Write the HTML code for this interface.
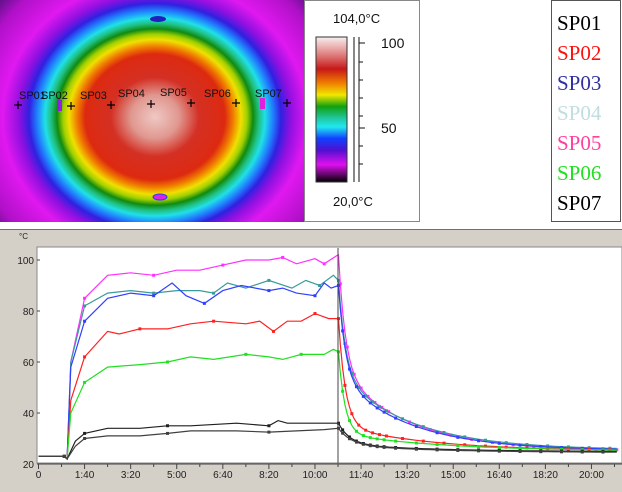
<!DOCTYPE html>
<html><head><meta charset="utf-8">
<style>
html,body{margin:0;padding:0;background:#fff;width:622px;height:492px;overflow:hidden}
svg{display:block;font-family:"Liberation Sans",Arial,sans-serif}
</style></head><body>
<svg id="s" width="622" height="492" viewBox="0 0 622 492" xmlns="http://www.w3.org/2000/svg">
<defs>
<radialGradient id="th" gradientUnits="userSpaceOnUse" cx="155" cy="117" r="200" gradientTransform="translate(155 117) scale(1 0.9) translate(-155 -117)">
<stop offset="0" stop-color="#f0c8c4"/>
<stop offset="0.12" stop-color="#e09890"/>
<stop offset="0.22" stop-color="#d43024"/>
<stop offset="0.35" stop-color="#dd2a10"/>
<stop offset="0.39" stop-color="#f07a00"/>
<stop offset="0.43" stop-color="#f0e000"/>
<stop offset="0.46" stop-color="#a0d000"/>
<stop offset="0.49" stop-color="#108a10"/>
<stop offset="0.52" stop-color="#20c080"/>
<stop offset="0.55" stop-color="#20e0e8"/>
<stop offset="0.59" stop-color="#2080ff"/>
<stop offset="0.63" stop-color="#3020e0"/>
<stop offset="0.68" stop-color="#9010e0"/>
<stop offset="0.76" stop-color="#e018f0"/>
<stop offset="0.92" stop-color="#b010c8"/>
<stop offset="1" stop-color="#6a1090"/>
</radialGradient>
<linearGradient id="cb" x1="0" y1="0" x2="0" y2="1">
<stop offset="0" stop-color="#f8f0f0"/>
<stop offset="0.12" stop-color="#e08080"/>
<stop offset="0.22" stop-color="#c81818"/>
<stop offset="0.32" stop-color="#f08000"/>
<stop offset="0.40" stop-color="#f0e800"/>
<stop offset="0.48" stop-color="#10a010"/>
<stop offset="0.56" stop-color="#20c8a0"/>
<stop offset="0.62" stop-color="#20e8f0"/>
<stop offset="0.70" stop-color="#1040ff"/>
<stop offset="0.78" stop-color="#5010d0"/>
<stop offset="0.88" stop-color="#e010f0"/>
<stop offset="1" stop-color="#000"/>
</linearGradient>
</defs>
<rect x="0" y="0" width="304" height="222" fill="url(#th)"/>
<ellipse cx="158" cy="19" rx="8" ry="3" fill="#2020c0"/>
<ellipse cx="160" cy="197" rx="7" ry="3" fill="#e020e0" stroke="#2040ff"/>
<rect x="57" y="100" width="5" height="11" fill="#9020e0"/>
<rect x="260" y="98" width="5" height="11" fill="#e020e0"/>
<g font-size="11" fill="#111">
<text x="19" y="99">SP01</text><text x="41" y="99">SP02</text><text x="80" y="99">SP03</text><text x="118" y="97">SP04</text><text x="160" y="96">SP05</text><text x="204" y="97">SP06</text><text x="255" y="97">SP07</text>
</g>
<g stroke="#000" stroke-width="1.2">
<path d="M14 105h8M18 101v8M67 106h8M71 102v8M107 105h8M111 101v8M147 104h8M151 100v8M187 103h8M191 99v8M232 103h8M236 99v8M283 103h8M287 99v8"/>
</g>
<rect x="304.5" y="0.5" width="115" height="221" fill="#fff" stroke="#888"/>
<rect x="316" y="37" width="31" height="145" fill="url(#cb)" stroke="#333"/>
<g stroke="#111" stroke-width="1"><path d="M354 37v145M359 37v145M359 43h6M359 62h4M359 80h4M359 98h4M359 116h4M359 128h6M359 146h4M359 164h4"/></g>
<g font-size="13" fill="#111"><text x="333" y="23">104,0°C</text><text x="333" y="206">20,0°C</text><text x="381" y="48" font-size="14">100</text><text x="381" y="133" font-size="14">50</text></g>
<rect x="551.5" y="0.5" width="69" height="221" fill="#fff" stroke="#555"/>
<g font-family="Liberation Serif,serif" font-size="21">
<text x="557" y="30" fill="#000">SP01</text><text x="557" y="60" fill="#ff1010">SP02</text><text x="557" y="90" fill="#3030a0">SP03</text><text x="557" y="120" fill="#c0dde0">SP04</text><text x="557" y="150" fill="#ff40a0">SP05</text><text x="557" y="180" fill="#20e020">SP06</text><text x="557" y="210" fill="#000">SP07</text>
</g>
<rect x="0" y="229" width="622" height="263" fill="#d4d0c8"/>
<line x1="0" y1="229.5" x2="622" y2="229.5" stroke="#707070"/>
<rect x="37" y="247" width="585" height="216" fill="#fff" stroke="#888"/>
<text x="19" y="239" font-size="8" fill="#222">°C</text>
<g id="ax" font-size="10" fill="#222"></g>
<g id="ser" fill="none" stroke-width="1.2"></g>
<line x1="338" y1="248" x2="338" y2="463" stroke="#444" stroke-width="1"/>
</svg>
<script>
var X=function(t){return 38.5+t*0.4608},Y=function(v){return 464-(v-20)*2.55};
var ax=document.getElementById('ax'),h='';
[20,40,60,80,100].forEach(function(v){h+='<text x="34" y="'+(Y(v)+4)+'" text-anchor="end">'+v+'</text><line x1="37" x2="40" y1="'+Y(v)+'" y2="'+Y(v)+'" stroke="#444"/>';});
h+='<line x1="37" x2="622" y1="464" y2="464" stroke="#444"/>';
var lb=['0','1:40','3:20','5:00','6:40','8:20','10:00','11:40','13:20','15:00','16:40','18:20','20:00'];
for(var i=0;i<lb.length;i++){var x=X(i*100);h+='<text x="'+x+'" y="478" text-anchor="middle">'+lb[i]+'</text><line x1="'+x+'" x2="'+x+'" y1="464" y2="469" stroke="#444"/>';var x2=X(i*100+50);h+='<line x1="'+x2+'" x2="'+x2+'" y1="464" y2="467" stroke="#444"/>';}
ax.innerHTML=h;
function cool(a,end,A2,t1,t2){var A1=a-end-A2,r=[];for(var t=655;t<=1255;t+=(t<760?5:15)){var d=t-651;r.push([t,end+A1*Math.exp(-d/t1)+A2*Math.exp(-d/t2)]);}return r;}
var pre=[[0,23],[56,23],[62,22]];
var S=[
['#ff30ff',[[70,60],[100,85],[150,94],[200,95],[250,94],[300,96],[350,96],[400,98],[450,100],[500,100],[530,101],[560,98.5],[600,100.5],[620,98.5],[650,102]],cool(102,25,32,15,150)],
['#3a9a9a',[[70,60],[100,82],[150,87],[200,88],[250,87],[300,88],[350,88],[380,87],[410,91],[450,89],[500,92],[550,89],[580,92],[610,90],[640,94],[651,92]],cool(92,25.5,30,15,155)],
['#3040ff',[[70,58],[100,76],[150,85],[200,87],[250,86],[290,91],[320,86],[360,83],[400,88],[440,90],[500,88],[530,89],[560,87],[600,86],[620,91],[635,89],[651,90]],cool(90,25.3,29,15,150)],
['#ff2020',[[70,45],[100,62],[150,72],[175,71],[220,73],[280,73],[330,75],[380,76],[450,75],[480,76],[510,72],[540,76],[570,76],[600,79],[630,77],[651,77]],cool(77,25,10,15,200)],
['#20e020',[[70,40],[100,52],[150,58],[220,59],[280,60],[330,62],[380,61],[450,63],[500,62],[530,61],[570,63],[620,63],[640,65],[651,64]],cool(64,25,7,14,220)],
['#202020',[[80,29],[100,32],[150,34],[220,34],[280,35],[330,35],[430,36],[500,35],[520,37],[540,36],[651,36]],cool(36,24.8,3,25,200)],
['#404040',[[80,27],[100,30],[150,31],[220,31],[280,32],[330,33],[430,33],[500,32.5],[560,33],[620,33.5],[651,34]],cool(34,24.5,3,28,200)]
];
var g='';S.forEach(function(s){var pts=pre.concat(s[1]).concat([[651,s[1][s[1].length-1][1]]]).concat(s[2]);var d=pts.map(function(p,i){return (i?'L':'M')+X(p[0]).toFixed(1)+' '+Y(p[1]).toFixed(1);}).join('');g+='<path d="'+d+'" stroke="'+s[0]+'"/>';
pts.forEach(function(p,i){if(i%3==1)g+='<rect x="'+(X(p[0])-1.5)+'" y="'+(Y(p[1])-1.5)+'" width="3" height="3" fill="'+s[0]+'" stroke="none"/>';});});
document.getElementById('ser').innerHTML=g;
</script>
</body></html>
